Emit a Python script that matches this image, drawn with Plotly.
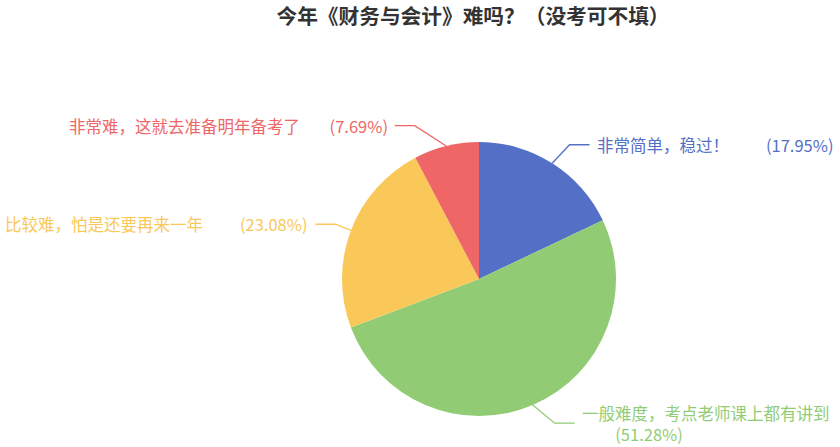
import math
import plotly.graph_objects as go

# survey answers, clockwise from 12 o'clock
names = ["非常简单，稳过！", "一般难度，考点老师课上都有讲到", "比较难，怕是还要再来一年", "非常难，这就去准备明年备考了"]
percents = [17.95, 51.28, 23.08, 7.69]
colors = ["#5470c6", "#91cc75", "#fac858", "#ee6666"]
gaps = [10, 9, 10, 8]          # spaces between name and percent
wrap = [False, True, False, False]
label_shift = [(5, 1), (13, -3), (6, 2), (-26, 2)]   # layout nudges of the label elbows

W, H = 840, 447
cx, cy, r = 479, 279, 137      # pie centre / radius in px
len1, len2 = 23, 20            # leader line pieces
font = "Noto Sans CJK SC"


def px(x):
    return x / W


def py(y):
    return 1 - y / H


fig = go.Figure(go.Pie(
    labels=names,
    values=percents,
    sort=False,
    direction="clockwise",
    rotation=0,
    marker=dict(colors=colors, line=dict(width=0)),
    textinfo="none",
    hoverinfo="skip",
    showlegend=False,
    domain=dict(x=[px(cx - r), px(cx + r)], y=[py(cy + r), py(cy - r)]),
))

total = sum(percents)
cum = 0
for name, p, c, g, wr, sh in zip(names, percents, colors, gaps, wrap, label_shift):
    mid = (cum + p / 2) / total * 2 * math.pi
    cum += p
    dx, dy = math.sin(mid), -math.cos(mid)
    x1, y1 = cx + r * dx, cy + r * dy
    x2 = cx + (r + len1) * dx + sh[0]
    y2 = cy + (r + len1) * dy + sh[1]
    side = 1 if dx >= 0 else -1
    x3 = x2 + side * len2
    fig.add_shape(type="path",
                  path=f"M {px(x1)} {py(y1)} L {px(x2)} {py(y2)} L {px(x3)} {py(y2)}",
                  xref="paper", yref="paper", line=dict(color=c, width=1.3))
    pct = f"({p:.2f}%)"
    sp = "\u00a0" * g
    txt = name + "<br>" + sp + pct if wr else name + sp + pct
    fig.add_annotation(x=px(x3 + side * 5), y=py(y2), xref="paper", yref="paper",
                       text=txt, showarrow=False,
                       xanchor="left" if side > 0 else "right", yanchor="middle",
                       align="left" if side > 0 else "right",
                       font=dict(family=font, size=16.5, color=c))

fig.update_layout(
    width=W, height=H,
    margin=dict(l=0, r=0, t=0, b=0),
    paper_bgcolor="white",
    plot_bgcolor="white",
    title=dict(text="<b>今年《财务与会计》难吗？（没考可不填）</b>",
               x=px(473), y=py(17), xanchor="center", yanchor="middle",
               font=dict(family=font, size=20.7, color="#333333")),
)

fig.write_html("out.html", config={"displayModeBar": False},
               post_script="document.body.style.margin='0';")
